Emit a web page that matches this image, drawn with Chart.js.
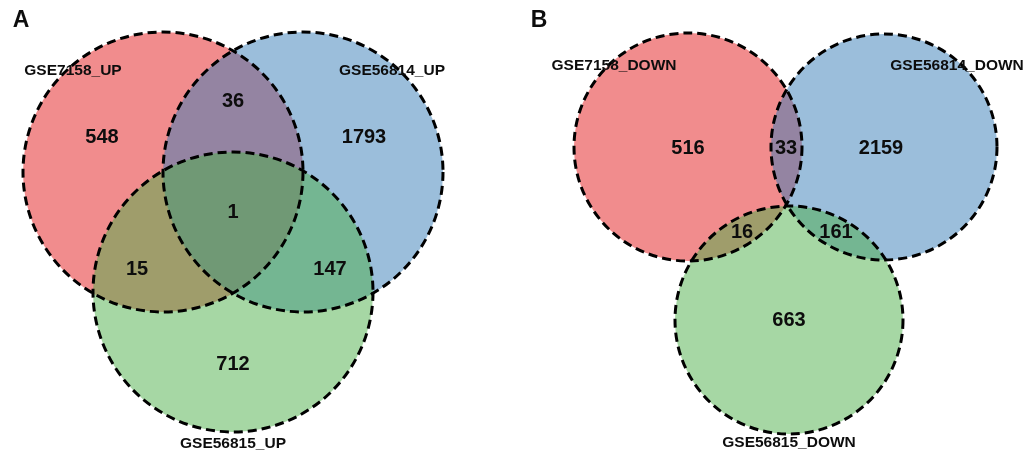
<!DOCTYPE html>
<html>
<head>
<meta charset="utf-8">
<script src="https://cdn.jsdelivr.net/npm/chart.js@4"></script>
<style>
  html, body { margin: 0; padding: 0; background: #ffffff; }
  #wrap { position: relative; width: 1025px; height: 454px; }
</style>
</head>
<body>
<div id="wrap"><canvas id="c"></canvas></div>
<script>
// ---- Data ----
const panelLetters = ['A', 'B'];
const setNamesA = ['GSE7158_UP', 'GSE56814_UP', 'GSE56815_UP'];
const setNamesB = ['GSE7158_DOWN', 'GSE56814_DOWN', 'GSE56815_DOWN'];
// region counts: only1, only2, only3, 1&2, 1&3, 2&3, all
const countsA = [548, 1793, 712, 36, 15, 147, 1];
const countsB = [516, 2159, 663, 33, 16, 161, 0];
// circle layout (data units)
const circleXA = [163, 303, 233];
const circleYA = [172, 172, 292];
const circleRA = [140, 140, 140];
const circleXB = [688, 884, 789];
const circleYB = [147, 147, 320];
const circleRB = [114, 113, 114];
// label anchor positions (data units)
const countXA = [102, 364, 233, 233, 137, 330, 233];
const countYA = [137, 137, 364, 101, 269, 269, 212];
const countXB = [688, 881, 789, 786, 742, 836, null];
const countYB = [148, 148, 320, 148, 232, 232, null];
const nameXA = [73, 392, 233];
const nameYA = [71, 71, 444];
const nameXB = [614, 957, 789];
const nameYB = [66, 66, 443];
const letterX = [21, 539];
const letterY = [21, 21];

const setColors = ['rgba(228,26,28,0.5)', 'rgba(55,126,184,0.5)', 'rgba(77,175,74,0.5)'];

function circles(xs, ys, rs) {
  return xs.map((x, i) => ({ x: x, y: ys[i], r: rs[i], k: i }));
}
const allCircles = circles(circleXA, circleYA, circleRA).concat(circles(circleXB, circleYB, circleRB));

function radiusPx(ctx) {
  const s = ctx.chart.scales.x;
  if (!ctx.raw) return 0;
  return Math.abs(s.getPixelForValue(ctx.raw.r) - s.getPixelForValue(0));
}

const dashPlugin = {
  id: 'dash',
  beforeDatasetDraw(chart, args) {
    if (chart.data.datasets[args.index].dashed) {
      chart.ctx.save();
      chart.ctx.setLineDash([9, 5]);
    }
  },
  afterDatasetDraw(chart, args) {
    if (chart.data.datasets[args.index].dashed) {
      chart.ctx.restore();
    }
  }
};

const textPlugin = {
  id: 'vennText',
  afterDatasetsDraw(chart) {
    const ctx = chart.ctx;
    const sx = chart.scales.x, sy = chart.scales.y;
    ctx.save();
    ctx.fillStyle = '#0d0d0d';
    ctx.textAlign = 'center';
    ctx.textBaseline = 'middle';
    function put(txt, x, y, font) {
      if (x === null || x === undefined) return;
      ctx.font = font;
      ctx.fillText(txt, sx.getPixelForValue(x), sy.getPixelForValue(y));
    }
    const numFont = 'bold 20px "Liberation Sans", Arial, sans-serif';
    const nameFont = 'bold 15.5px "Liberation Sans", Arial, sans-serif';
    const letFont = 'bold 23px "Liberation Sans", Arial, sans-serif';
    countsA.forEach((v, i) => put(String(v), countXA[i], countYA[i], numFont));
    countsB.forEach((v, i) => { if (v > 0) put(String(v), countXB[i], countYB[i], numFont); });
    setNamesA.forEach((n, i) => put(n, nameXA[i], nameYA[i], nameFont));
    setNamesB.forEach((n, i) => put(n, nameXB[i], nameYB[i], nameFont));
    panelLetters.forEach((l, i) => put(l, letterX[i], letterY[i], letFont));
    ctx.restore();
  }
};

new Chart(document.getElementById('c'), {
  type: 'scatter',
  data: {
    datasets: [
      {
        label: 'fills',
        order: 2,
        data: allCircles,
        pointRadius: radiusPx,
        pointHoverRadius: radiusPx,
        pointBackgroundColor: ctx => ctx.raw ? setColors[ctx.raw.k] : 'transparent',
        pointBorderWidth: 0,
        pointBorderColor: 'rgba(0,0,0,0)',
        clip: false
      },
      {
        label: 'outlines',
        order: 1,
        dashed: true,
        data: allCircles,
        pointRadius: radiusPx,
        pointHoverRadius: radiusPx,
        pointBackgroundColor: 'rgba(0,0,0,0)',
        pointBorderColor: '#000000',
        pointBorderWidth: 3,
        clip: false
      }
    ]
  },
  options: {
    responsive: true,
    maintainAspectRatio: false,
    animation: false,
    events: [],
    layout: { padding: 0 },
    plugins: { legend: { display: false }, tooltip: { enabled: false } },
    scales: {
      x: { type: 'linear', min: 0, max: 1025, display: false },
      y: { type: 'linear', min: 0, max: 454, reverse: true, display: false }
    }
  },
  plugins: [dashPlugin, textPlugin]
});
</script>
</body>
</html>
